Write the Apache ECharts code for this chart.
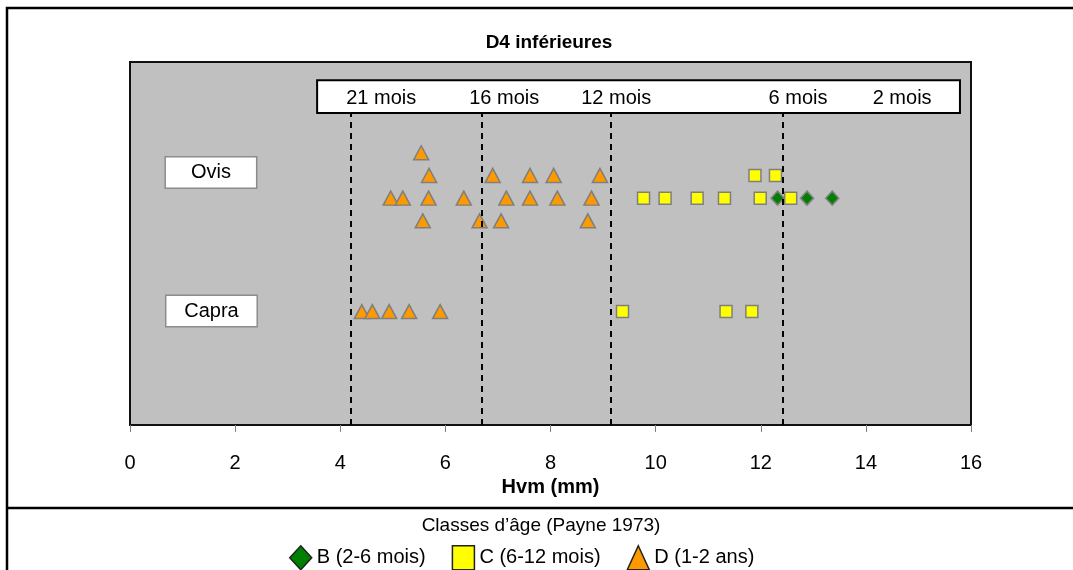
<!DOCTYPE html>
<html>
<head>
<meta charset="utf-8">
<script src="https://cdn.jsdelivr.net/npm/echarts@6/dist/echarts.min.js"></script>
<style>
html,body{margin:0;padding:0;background:#fff;}
#chart{width:1073px;height:570px;}
</style>
</head>
<body>
<div id="chart"></div>
<script>
// ---- Data (Hvm in mm ; y = row position of the point) ----
const titleText = 'D4 inférieures';
const xAxisName = 'Hvm (mm)';
const legendTitle = 'Classes d\u2019âge (Payne 1973)';
const seriesNames = ['B (2-6 mois)', 'C (6-12 mois)', 'D (1-2 ans)'];

// B (2-6 mois)
const classB = [[12.32, 10], [12.88, 10], [13.36, 10]];
// C (6-12 mois)
const classC = [
  [11.89, 11], [12.28, 11],
  [9.77, 10], [10.18, 10], [10.79, 10], [11.31, 10], [11.99, 10], [12.57, 10],
  [9.37, 5], [11.34, 5], [11.83, 5]
];
// D (1-2 ans)
const classD = [
  [5.54, 12],
  [5.69, 11], [6.90, 11], [7.61, 11], [8.06, 11], [8.94, 11],
  [4.96, 10], [5.19, 10], [5.68, 10], [6.35, 10], [7.16, 10], [7.61, 10], [8.13, 10], [8.78, 10],
  [5.57, 9], [6.65, 9], [7.06, 9], [8.71, 9],
  [4.41, 5], [4.61, 5], [4.93, 5], [5.31, 5], [5.90, 5]
];

// age reference lines (Hvm values)
const ageLineX = [4.20, 6.70, 9.15, 12.42];
// month labels in the top band
const monthLabels = ['21 mois', '16 mois', '12 mois', '6 mois', '2 mois'];
const monthLabelX = [4.78, 7.12, 9.25, 12.71, 14.69];
const monthLabelY = 14.37;
const monthBox = [[3.56, 15.2], [15.79, 13.75]];
// species labels
const speciesNames = ['Ovis', 'Capra'];
const speciesLabelX = [1.54, 1.55];
const speciesLabelY = [11.13, 5.02];

const xTicks = {min: 0, max: 16, interval: 2};
const yRange = {min: 0, max: 16};

const FONT = '"Liberation Sans", Arial, sans-serif';
const chart = echarts.init(document.getElementById('chart'), null, {renderer: 'canvas'});

const markerBorder = {borderColor: '#7f7f7f', borderWidth: 1.5, opacity: 1};

const option = {
  animation: false,
  backgroundColor: '#fff',
  textStyle: {fontFamily: FONT},
  title: [
    {text: titleText, left: 544, top: 28, textAlign: 'center',
     textStyle: {fontFamily: FONT, fontSize: 19, fontWeight: 'bold', color: '#000'}},
    {text: legendTitle, left: 536, top: 511, textAlign: 'center',
     textStyle: {fontFamily: FONT, fontSize: 19, fontWeight: 'normal', color: '#000'}}
  ],
  legend: {
    data: seriesNames,
    left: 284, top: 540,
    itemWidth: 22, itemHeight: 24, itemGap: 26,
    textStyle: {fontFamily: FONT, fontSize: 20, color: '#000'},
    itemStyle: {borderColor: '#222', borderWidth: 1.5},
    selectedMode: false
  },
  grid: {
    left: 130, top: 62, right: 102, bottom: 145,
    show: true, backgroundColor: '#C0C0C0', borderColor: '#111', borderWidth: 2
  },
  xAxis: {
    type: 'value', min: xTicks.min, max: xTicks.max, interval: xTicks.interval,
    name: xAxisName, nameLocation: 'middle', nameGap: 47,
    nameTextStyle: {fontFamily: FONT, fontSize: 20, fontWeight: 'bold', color: '#000'},
    axisLine: {show: false},
    axisTick: {show: true, length: 7, lineStyle: {color: '#808080', width: 1}},
    axisLabel: {margin: 28, fontFamily: FONT, fontSize: 20, color: '#000'},
    splitLine: {show: false}
  },
  yAxis: {
    type: 'value', min: yRange.min, max: yRange.max,
    show: false, splitLine: {show: false}
  },
  graphic: [
    {type: 'rect', shape: {x: 7, y: 8, width: 1200, height: 700},
     style: {fill: 'none', stroke: '#000', lineWidth: 2.5}, silent: true, z: 100},
    {type: 'line', shape: {x1: 7, y1: 508, x2: 1073, y2: 508},
     style: {stroke: '#000', lineWidth: 2.5}, silent: true, z: 100}
  ],
  series: [
    {
      name: 'box', type: 'scatter', data: [], silent: true,
      markArea: {
        silent: true,
        itemStyle: {color: '#fff', borderColor: '#000', borderWidth: 2, opacity: 1},
        data: [[{coord: monthBox[0]}, {coord: monthBox[1]}]]
      },
      z: 1
    },
    {
      name: 'months', type: 'scatter', symbolSize: 0, silent: true,
      itemStyle: {opacity: 1},
      data: monthLabels.map((t, i) => [monthLabelX[i], monthLabelY, t]),
      label: {show: true, position: 'inside', formatter: p => p.value[2],
              fontFamily: FONT, fontSize: 20, color: '#000'},
      z: 3
    },
    {
      name: 'species', type: 'scatter', symbolSize: 0, silent: true,
      itemStyle: {opacity: 1},
      data: speciesNames.map((t, i) => [speciesLabelX[i], speciesLabelY[i], t]),
      label: {show: true, position: 'inside', formatter: p => p.value[2],
              fontFamily: FONT, fontSize: 20, color: '#000',
              backgroundColor: '#fff', borderColor: '#8c8c8c', borderWidth: 1.5,
              width: 90, height: 30, lineHeight: 30, align: 'center', verticalAlign: 'middle'},
      z: 3
    },
    {
      name: seriesNames[0], type: 'scatter', symbol: 'diamond', symbolSize: [13, 14],
      data: classB, itemStyle: Object.assign({color: '#008000'}, markerBorder), z: 4
    },
    {
      name: seriesNames[1], type: 'scatter', symbol: 'rect', symbolSize: 12,
      data: classC, itemStyle: Object.assign({color: '#FFFF00'}, markerBorder), z: 4
    },
    {
      name: seriesNames[2], type: 'scatter', symbol: 'triangle', symbolSize: [15, 14],
      data: classD, itemStyle: Object.assign({color: '#FF9900'}, markerBorder), z: 4
    },
    {
      name: 'lines', type: 'scatter', data: [], silent: true,
      markLine: {
        silent: true, symbol: ['none', 'none'],
        label: {show: false},
        lineStyle: {color: '#000', width: 2, type: [6, 5], opacity: 1},
        data: ageLineX.map(x => [{coord: [x, yRange.min]}, {coord: [x, monthBox[1][1]]}])
      },
      z: 5
    }
  ]
};
chart.setOption(option);
</script>
</body>
</html>
